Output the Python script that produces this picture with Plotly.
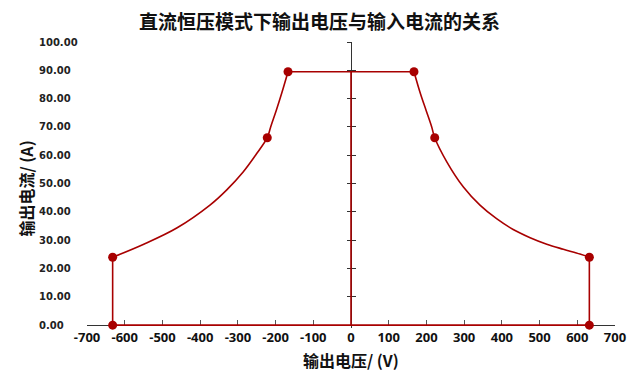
import plotly.graph_objects as go

# ---------------- data ----------------
title_text = "直流恒压模式下输出电压与输入电流的关系"
x_title = "输出电压/ (V)"
y_title = "输出电流/ (A)"

# key operating points (markers)
key_v = [-632, -632, -222, -167, 167, 222, 632, 632]
key_i = [0, 24, 66.2, 89.5, 89.5, 66.2, 24, 0]

# constant-power boundary curves
left_curve_v = [-632, -551, -462, -374, -330, -286, -250, -222, -213, -198, -184, -167]
left_curve_i = [24, 28.5, 34.3, 42.4, 47.7, 54.1, 60.6, 66.2, 70.0, 75.9, 81.8, 89.5]
right_curve_v = [167, 184, 199, 214, 222, 254, 298, 342, 386, 430, 475, 519, 563, 607, 632]
right_curve_i = [89.5, 81.8, 75.9, 70.0, 66.2, 57.7, 48.8, 42.4, 37.6, 33.8, 30.9, 28.6, 26.8, 25.1, 24]

x_ticks = list(range(-700, 701, 100))
y_ticks = list(range(0, 101, 10))
y_tick_text = [f"{v:.2f}" for v in y_ticks]

# ---------------- styling ----------------
RED = "#A80000"
AXIS = "#333333"
OFF = 8                      # page body margin of the html page
W, H = 643 - OFF, 379 - OFF
ML, MR, MT, MB = 22, 28, 34, 51
PW = W - ML - MR
PH = H - MT - MB
X_RANGE = [-700, 700]
Y_RANGE = [-1, 100]
x_dom0 = (79 - ML) / PW


def xpos(v):
    return x_dom0 + (1 - x_dom0) * (v - X_RANGE[0]) / (X_RANGE[1] - X_RANGE[0])


def ypos(v):
    return (v - Y_RANGE[0]) / (Y_RANGE[1] - Y_RANGE[0])


fig = go.Figure()

# straight boundary segments, built from the key points
seg_x = [key_v[0], key_v[1], None,
         key_v[3], key_v[4], None,
         key_v[6], key_v[7], None,
         key_v[0], key_v[7], None,
         0, 0]
seg_y = [key_i[0], key_i[1], None,
         key_i[3], key_i[4], None,
         key_i[6], key_i[7], None,
         key_i[0], key_i[7], None,
         0, key_i[3]]
fig.add_trace(go.Scatter(x=seg_x, y=seg_y, mode="lines",
                         line=dict(color=RED, width=1.6),
                         hoverinfo="skip", showlegend=False))

for cv, ci in ((left_curve_v, left_curve_i), (right_curve_v, right_curve_i)):
    fig.add_trace(go.Scatter(x=cv, y=ci, mode="lines",
                             line=dict(color=RED, width=1.6, shape="spline", smoothing=1.0),
                             hoverinfo="skip", showlegend=False))

fig.add_trace(go.Scatter(x=key_v, y=key_i, mode="markers",
                         marker=dict(color=RED, size=9),
                         cliponaxis=False, showlegend=False))

# dummy traces so the centre axes are drawn
for ax in ("y2", "y3"):
    fig.add_trace(go.Scatter(x=[0], y=[0], yaxis=ax, mode="markers",
                             marker=dict(opacity=0), hoverinfo="skip", showlegend=False))

center_pos = xpos(0)
common_center = dict(range=Y_RANGE, overlaying="y", anchor="free", position=center_pos,
                     showline=True, linecolor=AXIS, linewidth=1, tickvals=y_ticks[1:],
                     ticklen=4, tickcolor=AXIS, showticklabels=False,
                     showgrid=False, zeroline=False, layer="below traces")

fig.update_layout(
    width=W, height=H,
    margin=dict(l=ML, r=MR, t=MT, b=MB, autoexpand=False),
    paper_bgcolor="white", plot_bgcolor="white",
    title=dict(text=title_text, x=311.5 / W, xref="container", xanchor="center",
               y=1 - 14 / H, yref="container", yanchor="middle",
               font=dict(family="Noto Sans CJK SC", size=19, color="#111", weight="bold")),
    xaxis=dict(domain=[x_dom0, 1], range=X_RANGE, anchor="free", position=ypos(0),
               tickvals=x_ticks, ticktext=[str(v) for v in x_ticks],
               ticks="inside", ticklen=5, tickcolor="#555",
               showline=True, linecolor=AXIS, linewidth=1, layer="below traces",
               showgrid=False, zeroline=False,
               tickfont=dict(family="Open Sans", size=13, color="#111", weight="bold")),
    yaxis=dict(domain=[0, 1], range=Y_RANGE, side="right", anchor="free",
               position=(30 - ML) / PW, tickvals=y_ticks, ticktext=y_tick_text,
               ticks="", showline=False, showgrid=False, zeroline=False,
               tickfont=dict(family="DejaVu Sans", size=10, color="#222", weight="bold")),
    yaxis2=dict(ticks="outside", **common_center),
    yaxis3=dict(ticks="inside", **common_center),
    annotations=[
        dict(text=y_title, xref="paper", yref="paper",
             x=(17.5 - ML) / PW, y=(H - MB - 181) / PH, textangle=-90,
             xanchor="center", yanchor="middle", showarrow=False,
             font=dict(family="Noto Sans CJK SC", size=16, color="#111", weight="bold")),
        dict(text=x_title, xref="paper", yref="paper",
             x=(x_dom0 + 1) / 2, y=(H - MB - 351.5) / PH,
             xanchor="center", yanchor="middle", showarrow=False,
             font=dict(family="Noto Sans CJK SC", size=16, color="#111", weight="bold")),
    ],
)

fig.write_html("out.html")
